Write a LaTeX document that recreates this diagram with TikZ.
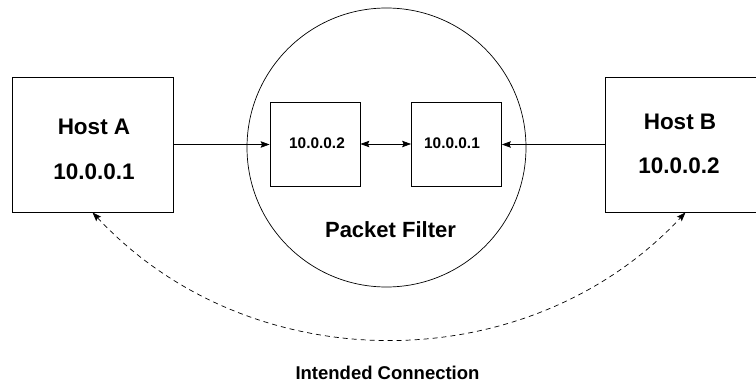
\documentclass[tikz,border=0pt]{standalone}
\usepackage{fontspec}
\setmainfont{Liberation Sans}
\usetikzlibrary{arrows.meta}
\begin{document}
\begin{tikzpicture}[x=1pt, y=-1pt, hostStyle/.style={rectangle, draw, line width=0.8pt, minimum width=161pt, minimum height=135pt}, portStyle/.style={rectangle, draw, line width=0.8pt, minimum width=90pt, minimum height=84pt}, filterStyle/.style={circle, draw, line width=0.7pt, minimum size=279pt}, hostText/.style={inner sep=0pt, font=\bfseries\fontsize{22.5}{27}\selectfont}, portText/.style={inner sep=0pt, font=\bfseries\fontsize{15.4}{18}\selectfont}, >={Stealth[length=9pt, width=6.5pt, inset=1.5pt]}]
                    \useasboundingbox (0,0) rectangle (756,383);
                    \clip (0,0) rectangle (756,383);

                    \node[filterStyle](filter) at (386.5, 147.5) {};
                    \node[inner sep=0pt, font=\bfseries\fontsize{22}{26}\selectfont](filter_T) at (390.5, 230) {Packet Filter};

                    \node[hostStyle](hostA)   at ( 92.5, 144.5) {};
                    \node[hostText] (hostA_0) at (   94, 127)   {Host A};
                    \node[hostText] (hostA_1) at (   94, 172)   {10.0.0.1};

                    \node[hostStyle](hostB)   at (685.5, 144.5) {};
                    \node[hostText] (hostB_0) at (  680, 121.5) {Host B};
                    \node[hostText] (hostB_1) at (  679, 165.5) {10.0.0.2};

                    \node[portStyle](portA)   at (  315, 144) {};
                    \node[portText] (portA_T) at (  317, 143.5) {10.0.0.2};
                    \node[portStyle](portB)   at (456.5, 144) {};
                    \node[portText] (portB_T) at (  452, 143.5) {10.0.0.1};

                    \draw[->, line width=0.7pt] (hostA.east) -- (hostA.east -| portA.west);
                    \draw[<->, line width=0.7pt] (portA.east) -- (portB.west);
                    \draw[->, line width=0.7pt] (hostB.west) -- (hostB.west -| portB.east);

                    \draw[<->, line width=0.7pt, dash pattern=on 5pt off 4pt] (hostA.south) to[bend right=47] (hostB.south);
                    \node[inner sep=0pt, font=\bfseries\fontsize{18.5}{22}\selectfont](intended) at (387.5, 373) {Intended Connection};
                \end{tikzpicture}
\end{document}
